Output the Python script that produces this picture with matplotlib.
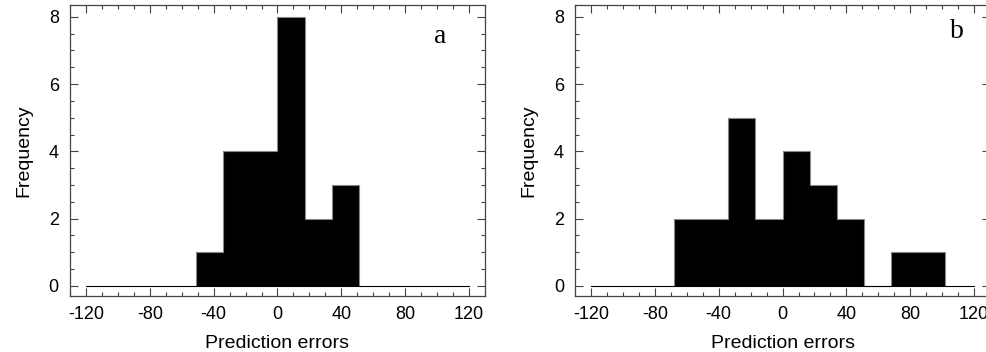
import matplotlib.pyplot as plt
from matplotlib.ticker import MultipleLocator

# bin edges and counts for the two histograms
edges_a = [-51, -34, -17, 0, 17, 34, 51]
counts_a = [1, 4, 4, 8, 2, 3]

edges_b = [-68, -51, -34, -17, 0, 17, 34, 51, 68, 85, 102]
counts_b = [2, 2, 5, 2, 4, 3, 2, 0, 1, 1]

panels = [("a", edges_a, counts_a, 102, 7.4), ("b", edges_b, counts_b, 109, 7.55)]

plt.rcParams["font.family"] = ["Liberation Sans", "DejaVu Sans"]
plt.rcParams["axes.unicode_minus"] = False

fig = plt.figure(figsize=(9.87, 3.52), dpi=100)
positions = [[0.0709, 0.159, 0.4205, 0.8267], [0.5826, 0.159, 0.4205, 0.8267]]

for (letter, edges, counts, lx, ly), pos in zip(panels, positions):
    ax = fig.add_axes(pos)

    # baseline across the full range
    ax.plot([-120, 120], [0, 0], color="black", lw=0.8)

    # filled histogram without inner bin lines, thin grey outline
    ax.stairs(counts, edges, fill=True, color="black", linewidth=0)
    ax.stairs(counts, edges, baseline=0, color="#888888", linewidth=0.8)

    ax.set_xlim(-130, 130)
    ax.set_ylim(-0.3, 8.35)
    ax.set_xticks([-120, -80, -40, 0, 40, 80, 120])
    ax.set_yticks([0, 2, 4, 6, 8])
    ax.xaxis.set_minor_locator(MultipleLocator(10))
    ax.yaxis.set_minor_locator(MultipleLocator(0.5))
    ax.tick_params(which="both", direction="in", top=True, right=True,
                   color="#444444", labelsize=13)
    ax.tick_params(which="major", length=6, width=0.8)
    ax.tick_params(which="minor", length=3, width=0.8)
    ax.tick_params(axis="x", which="major", pad=7)
    ax.tick_params(axis="y", which="major", pad=8)
    for s in ax.spines.values():
        s.set_color("#444444")
        s.set_linewidth(0.9)

    ax.set_xlabel("Prediction errors", fontsize=14, labelpad=9)
    ax.set_ylabel("Frequency", fontsize=14, labelpad=12)
    ax.text(lx, ly, letter, fontsize=20, family="Liberation Serif",
            ha="center", va="center")

fig.savefig("out.png", dpi=100)
